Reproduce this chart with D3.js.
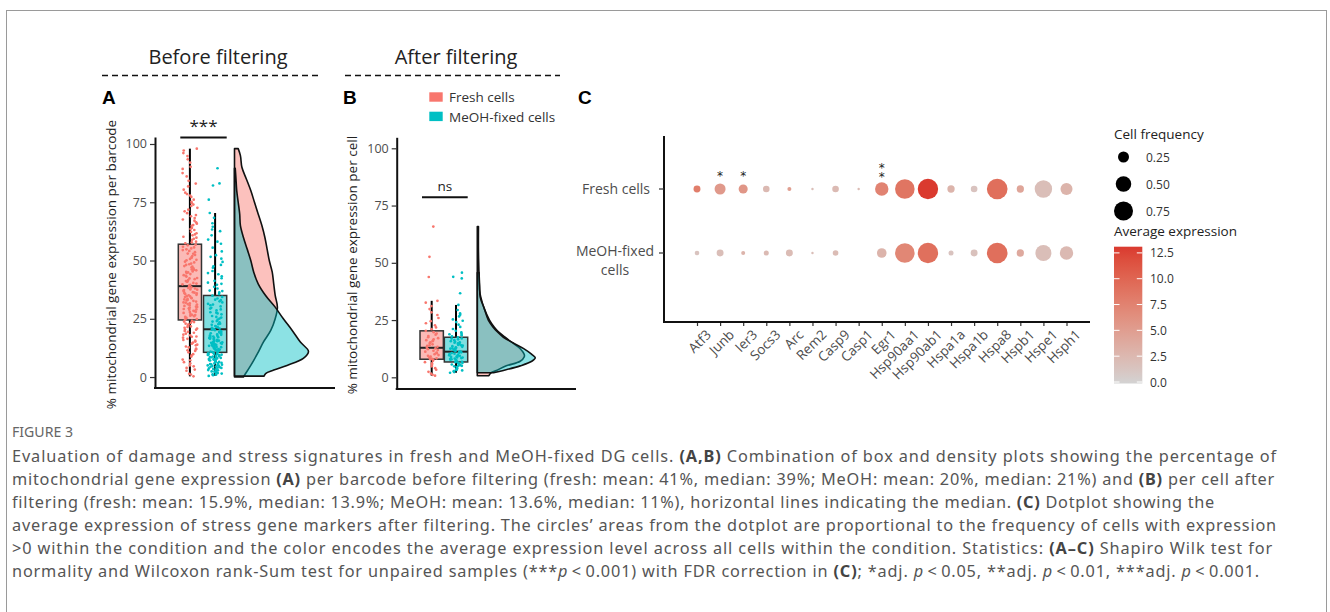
<!DOCTYPE html>
<html>
<head>
<meta charset="utf-8">
<script src="https://cdn.jsdelivr.net/npm/d3@7"></script>
<style>
  body { margin: 0; background: #fff; }
  text { font-family: "Open Sans", sans-serif; }
</style>
</head>
<body>
<svg id="chart" width="1330" height="612"></svg>
<script>
// conditions
const groups = ["Fresh cells", "MeOH-fixed cells"];
const groupColors = ["#F8766D", "#00BFC4"];

// panel A: % mito genes per barcode (before filtering)
const freshA = [0.3, 1.1, 1.4, 2.7, 3.2, 4.6, 5.0, 5.9, 7.2, 7.5, 8.8, 9.3, 10.6, 11.2, 11.5, 12.7, 13.1, 13.9, 14.8, 15.2,
  15.6, 16.9, 17.3, 17.4, 18.6, 19.0, 19.8, 20.3, 20.4, 21.5, 21.7, 22.1, 22.6, 23.3, 23.8, 24.1, 24.9, 25.2, 25.4, 26.1,
  26.6, 26.7, 27.5, 27.9, 28.3, 28.4, 29.2, 29.5, 30.1, 30.2, 30.8, 31.3, 31.6, 32.0, 32.4, 32.9, 33.1, 33.8, 34.0, 34.6,
  34.7, 35.3, 35.9, 36.0, 36.4, 37.1, 37.5, 37.6, 38.2, 38.5, 38.9, 39.3, 39.8, 40.4, 41.0, 41.2, 42.0, 42.5, 43.1, 43.7,
  44.2, 44.9, 45.3, 46.0, 46.2, 47.1, 47.6, 48.4, 48.7, 49.5, 50.1, 50.3, 51.2, 51.9, 52.4, 53.0, 53.6, 54.1, 54.8, 55.2,
  55.9, 56.5, 56.8, 57.4, 58.1, 58.9, 59.3, 60.2, 60.8, 61.7, 62.3, 63.5, 64.0, 64.9, 65.8, 66.4, 67.6, 68.2, 69.5, 70.3,
  71.1, 72.6, 73.4, 74.0, 75.2, 76.1, 77.3, 78.5, 79.1, 80.4, 81.8, 83.0, 84.2, 86.1, 87.5, 89.3, 90.2, 92.0, 93.4, 94.8,
  96.1, 97.2, 98.0, 18.2, 22.9, 26.3, 29.8, 33.5, 36.7, 41.6, 45.8, 28.9, 31.9, 24.6, 20.8, 16.4, 35.6, 39.6,
  15.9, 17.9, 19.4, 21.1, 23.6, 25.8, 27.1, 28.0, 29.0, 30.5, 31.1, 32.7, 33.3, 34.3, 35.1, 36.2, 37.3, 38.0, 40.1, 40.9,
  42.3, 43.4, 44.6, 45.1, 46.6, 47.4, 48.1, 49.2, 50.7, 51.5, 52.9, 54.5, 55.6, 57.8, 59.8, 61.2, 63.1, 65.2, 67.1, 69.0,
  71.8, 74.6, 77.9, 11.9, 9.8, 6.4, 3.9, 13.6, 14.3, 12.2];
const meohA = [0.5, 0.8, 1.2, 1.5, 1.9, 2.1, 2.6, 2.8, 3.3, 3.5, 3.9, 4.2, 4.4, 4.9, 5.2, 5.3, 5.8, 6.1, 6.3, 6.8,
  7.0, 7.3, 7.7, 7.8, 8.2, 8.5, 8.6, 9.1, 9.4, 9.5, 9.9, 10.2, 10.4, 10.9, 11.2, 11.3, 11.8, 12.1, 12.4, 12.6,
  13.1, 13.4, 13.5, 14.0, 14.3, 14.7, 14.9, 15.4, 15.6, 16.0, 16.3, 16.8, 17.0, 17.4, 17.7, 18.1, 18.3, 18.8, 19.0, 19.5,
  19.7, 20.1, 20.3, 20.8, 21.3, 21.9, 22.4, 22.7, 23.5, 24.0, 24.6, 25.1, 25.5, 26.2, 26.9, 27.3, 27.8, 28.6, 29.0, 29.7,
  30.3, 30.8, 31.4, 32.0, 32.5, 33.2, 33.7, 34.4, 34.9, 35.6, 36.3, 37.1, 38.0, 38.7, 39.6, 40.5, 41.3, 42.4, 43.2, 44.6,
  45.5, 46.9, 48.1, 49.4, 50.8, 52.3, 53.9, 55.5, 57.2, 59.0, 60.8, 62.6, 64.5, 66.0, 68.3, 70.4, 76.1, 82.2, 83.1, 89.6,
  6.6, 8.9, 10.7, 11.6, 12.9, 13.8, 15.1, 16.6, 4.7, 7.5, 9.7, 3.7, 2.4, 1.7, 5.6, 12.2, 14.5, 17.2, 19.2, 21.1,
  1.0, 2.3, 3.0, 4.0, 4.5, 5.5, 6.0, 6.5, 7.1, 7.6, 8.0, 8.4, 8.8, 9.2, 9.6, 10.0, 10.5, 11.0, 11.5, 12.0,
  12.8, 13.2, 13.7, 14.2, 14.6, 15.2, 15.8, 16.5, 17.1, 17.9, 18.6, 19.3, 20.6, 21.6, 22.9, 23.8, 25.8, 27.6, 29.4, 31.1,
  33.0, 36.9, 40.0, 44.1, 47.5, 51.6, 58.1, 63.3, 2.9, 5.0];
// box stats: [lower whisker, q1, median, q3, upper whisker]
const boxA = [[0.3, 24.5, 39, 57, 98], [0.5, 10.6, 20.5, 35, 70.4]];
// half-violin density [value, relative density]
const densFreshA = [[0, 0.12], [1, 0.14], [5, 0.22], [10, 0.31], [15, 0.39], [20, 0.49], [25, 0.55], [30, 0.58], [35, 0.55],
  [40, 0.53], [45, 0.51], [50, 0.47], [55, 0.44], [60, 0.41], [65, 0.37], [70, 0.32], [75, 0.27], [80, 0.22], [85, 0.16],
  [90, 0.10], [95, 0.08], [98, 0.05]];
const densMeohA = [[0.4, 0.40], [1.5, 0.42], [3, 0.53], [5, 0.71], [8, 0.93], [11, 1.0], [15, 0.89], [20, 0.78], [25, 0.66],
  [30, 0.55], [35, 0.42], [40, 0.32], [45, 0.26], [50, 0.22], [55, 0.17], [60, 0.12], [65, 0.08], [70, 0.07], [75, 0.05],
  [80, 0.03], [85, 0.02], [89.6, 0.01]];

// panel B: % mito genes per cell (after filtering)
const freshB = [0.7, 1.1, 1.6, 2.4, 3.3, 4.0, 4.8, 5.5, 6.1, 6.6, 7.2, 7.7, 7.9, 8.3, 8.6, 9.0, 9.4, 9.7, 10.1, 10.5,
  10.8, 11.2, 11.6, 11.9, 12.3, 12.6, 12.9, 13.3, 13.7, 14.0, 14.4, 14.9, 15.3, 15.8, 16.2, 16.6, 17.1, 17.5, 18.0, 18.6,
  19.1, 19.7, 20.3, 21.0, 21.8, 22.7, 23.6, 24.5, 25.9, 27.2, 28.4, 29.8, 31.1, 32.6, 33.4, 43.8, 52.6, 65.8, 16.0, 8.1];
const meohB = [2.0, 2.3, 2.7, 3.0, 3.2, 3.6, 3.9, 4.1, 4.5, 4.8, 5.0, 5.3, 5.6, 5.8, 6.1, 6.3, 6.6, 6.8, 7.0, 7.3,
  7.5, 7.7, 8.0, 8.2, 8.4, 8.7, 8.9, 9.1, 9.4, 9.6, 9.8, 10.1, 10.3, 10.6, 10.8, 11.0, 11.3, 11.5, 11.8, 12.0,
  12.3, 12.5, 12.8, 13.1, 13.3, 13.6, 13.9, 14.2, 14.5, 14.8, 15.1, 15.5, 15.8, 16.2, 16.6, 17.0, 17.4, 17.9, 18.4, 19.0,
  19.6, 20.3, 21.1, 22.0, 23.0, 24.1, 25.3, 26.6, 27.9, 29.4, 31.6, 36.7, 43.2, 43.9, 45.7, 5.1, 7.9, 9.2, 10.9, 12.7,
  14.0, 16.9, 18.8, 24.7, 27.3, 3.4, 6.4, 8.6, 11.9, 15.3];
const boxB = [[0.7, 7.9, 12.9, 20.3, 33.4], [2.0, 6.7, 11.2, 17.5, 31.6]];
const densFreshB = [[0.7, 0.20], [2, 0.24], [3, 0.33], [5, 0.50], [7, 0.74], [9, 0.81], [10, 0.81], [12.5, 0.74], [15, 0.61],
  [17.5, 0.48], [20, 0.36], [22, 0.29], [25, 0.21], [30, 0.12], [35, 0.06], [38, 0.04], [45, 0.03], [55, 0.02], [65.8, 0.02]];
const densMeohB = [[2, 0.28], [3, 0.45], [5, 0.74], [7, 0.94], [8.5, 1.0], [10, 0.94], [12.5, 0.80], [15, 0.62], [17.5, 0.45],
  [20, 0.34], [22, 0.27], [25, 0.19], [30, 0.12], [35, 0.05], [40, 0.04], [45.7, 0.03]];

const yTicks = [0, 25, 50, 75, 100];

// panel C: dotplot
const genes = ["Atf3", "Junb", "Ier3", "Socs3", "Arc", "Rem2", "Casp9", "Casp1", "Egr1", "Hsp90aa1", "Hsp90ab1",
  "Hspa1a", "Hspa1b", "Hspa8", "Hspb1", "Hspe1", "Hsph1"];
const freqFresh = [0.10, 0.25, 0.17, 0.09, 0.033, 0.012, 0.09, 0.012, 0.37, 0.79, 0.86, 0.11, 0.09, 0.88, 0.11, 0.63, 0.30];
const freqMeoh = [0.044, 0.10, 0.033, 0.052, 0.10, 0.012, 0.065, 0, 0.19, 0.79, 0.86, 0.052, 0.10, 0.88, 0.11, 0.53, 0.37];
const exprFresh = [8.0, 5.5, 5.8, 2.5, 5.0, 2.0, 2.4, 2.2, 7.5, 8.8, 13.1, 3.0, 1.5, 9.3, 4.4, 2.0, 3.0];
const exprMeoh = [1.5, 2.0, 3.0, 2.4, 2.2, 2.0, 2.2, 0, 3.0, 7.2, 9.2, 1.5, 1.7, 9.3, 4.0, 2.0, 2.5];
const sigFresh = ["", "*", "*", "", "", "", "", "", "**", "", "", "", "", "", "", "", ""];
const sizeBreaks = [0.25, 0.50, 0.75];
const colorBreaks = [0, 2.5, 5, 7.5, 10, 12.5];

const svg = d3.select("#chart");
svg.append("rect").attr("width", 1330).attr("height", 612).attr("fill", "#fff");
svg.append("rect").attr("x", 6.5).attr("y", 10.5).attr("width", 1320).attr("height", 640)
  .attr("fill", "none").attr("stroke", "#9a9a9a").attr("stroke-width", 1);

// headers over A and B
function header(label, cx, x0, x1) {
  svg.append("text").attr("x", cx).attr("y", 64).attr("text-anchor", "middle")
    .attr("font-size", 20).attr("fill", "#222").text(label);
  svg.append("line").attr("x1", x0).attr("x2", x1).attr("y1", 75.5).attr("y2", 75.5)
    .attr("stroke", "#111").attr("stroke-width", 1.5).attr("stroke-dasharray", "6,4");
}
header("Before filtering", 218, 102, 322);
header("After filtering", 456, 345, 560);

function panelLetter(l, x) {
  svg.append("text").attr("x", x).attr("y", 104).attr("font-size", 19).attr("font-weight", 700)
    .style("font-family", "Liberation Sans, Arial, sans-serif").attr("fill", "#000").text(l);
}
panelLetter("A", 102);
panelLetter("B", 343);
panelLetter("C", 578);

// spread of jittered points, deterministic per index
function spread(k, i) {
  const s = Math.sin((k + 1) * 12.9898 + (i + 1) * 78.233) * 43758.5453;
  return s - Math.floor(s) - 0.5;
}

function raincloud(o) {
  const y = d3.scaleLinear().domain(o.yDomain).range([o.bottom, o.top]);
  const x = d3.scaleBand().domain(groups).range(o.boxRange).paddingInner(o.pad);
  const w = d3.scaleLinear().domain([0, 1]).range([0, o.densMax]);
  const g = svg.append("g");

  // half violins
  const area = d3.area().curve(d3.curveCatmullRom)
    .y(p => y(p[0])).x0(o.densBase).x1(p => o.densBase + w(p[1]));
  o.dens.forEach((d, i) => {
    g.append("path").datum(d).attr("d", area)
      .attr("fill", groupColors[i]).attr("fill-opacity", 0.45)
      .attr("stroke", "#111").attr("stroke-width", 1.6).attr("stroke-linejoin", "round");
  });

  // boxes
  o.boxes.forEach((b, i) => {
    const bx = x(groups[i]), bw = x.bandwidth(), cx = bx + bw / 2;
    g.append("line").attr("x1", cx).attr("x2", cx).attr("y1", y(b[4])).attr("y2", y(b[3]))
      .attr("stroke", "#000").attr("stroke-width", 2);
    g.append("line").attr("x1", cx).attr("x2", cx).attr("y1", y(b[1])).attr("y2", y(b[0]))
      .attr("stroke", "#000").attr("stroke-width", 2);
    g.append("rect").attr("x", bx).attr("y", y(b[3])).attr("width", bw).attr("height", y(b[1]) - y(b[3]))
      .attr("fill", groupColors[i]).attr("fill-opacity", 0.5).attr("stroke", "#333").attr("stroke-width", 1.5);
    g.append("line").attr("x1", bx).attr("x2", bx + bw).attr("y1", y(b[2])).attr("y2", y(b[2]))
      .attr("stroke", "#222").attr("stroke-width", 2);
  });

  // jittered points
  o.values.forEach((vals, i) => {
    const cx = x(groups[i]) + x.bandwidth() / 2;
    g.selectAll(null).data(vals).enter().append("circle")
      .attr("cx", (v, k) => cx + spread(k, i) * 2 * o.jitter)
      .attr("cy", v => y(v))
      .attr("r", o.r)
      .attr("fill", groupColors[i]);
  });

  // significance bracket
  const sx0 = x(groups[0]) + 2, sx1 = x(groups[1]) + x.bandwidth();
  g.append("line").attr("x1", sx0).attr("x2", sx1).attr("y1", y(o.sigAt)).attr("y2", y(o.sigAt))
    .attr("stroke", "#111").attr("stroke-width", 2);
  g.append("text").attr("x", (sx0 + sx1) / 2).attr("y", y(o.sigAt) - o.sigGap).attr("text-anchor", "middle")
    .attr("font-size", o.sigSize).attr("fill", "#222").text(o.sigLabel);

  // axes
  const ax = g.append("g").attr("transform", `translate(${o.axisX},0)`)
    .call(d3.axisLeft(y).tickValues(yTicks).tickSize(5).tickPadding(3).tickSizeOuter(0));
  ax.select(".domain").attr("stroke", "#111").attr("stroke-width", 2);
  ax.selectAll(".tick line").attr("stroke", "#333").attr("stroke-width", 1.2);
  ax.selectAll(".tick text").attr("font-size", 12.5).attr("fill", "#4d4d4d").style("font-family", "Open Sans, sans-serif");
  g.append("line").attr("x1", o.axisX - 1).attr("x2", o.axisEnd).attr("y1", o.bottom).attr("y2", o.bottom)
    .attr("stroke", "#111").attr("stroke-width", 2);
  g.append("text").attr("transform", `translate(${o.titleX},${(o.top + o.bottom) / 2 + 2}) rotate(-90)`)
    .attr("text-anchor", "middle").attr("font-size", 13.5).attr("fill", "#222").text(o.yTitle);
}

raincloud({
  yDomain: [-4.7, 103], top: 137, bottom: 388,
  boxRange: [178.3, 226.7], pad: 0.08, densBase: 234.5, densMax: 74,
  dens: [densFreshA, densMeohA], boxes: boxA, values: [freshA, meohA], jitter: 7.5, r: 1.35,
  sigAt: 102.8, sigGap: 5, sigSize: 17, sigLabel: "***",
  axisX: 155, axisEnd: 335, titleX: 116, yTitle: "% mitochondrial gene expression per barcode"
});
raincloud({
  yDomain: [-5.1, 104.8], top: 137.3, bottom: 389,
  boxRange: [420, 467.7], pad: 0.04, densBase: 477.3, densMax: 58,
  dens: [densFreshB, densMeohB], boxes: boxB, values: [freshB, meohB], jitter: 7, r: 1.35,
  sigAt: 78.6, sigGap: 6, sigSize: 13.5, sigLabel: "ns",
  axisX: 396.7, axisEnd: 576, titleX: 357, yTitle: "% mitochondrial gene expression per cell"
});

// legend for A/B
groups.forEach((grp, i) => {
  svg.append("rect").attr("x", 429.3).attr("y", 92.3 + i * 19.4).attr("width", 13.4).attr("height", 9.4)
    .attr("fill", groupColors[i]);
  svg.append("text").attr("x", 449).attr("y", 102.3 + i * 19.4).attr("font-size", 13.5).attr("fill", "#333").text(grp);
});

// ---- panel C ----
const xC = d3.scalePoint().domain(genes).range([697, 1066.5]);
const yC = d3.scalePoint().domain(groups).range([189, 253]);
const size = d3.scaleSqrt().domain([0, 1]).range([0, 11]);
const colorMax = 13.1;
const color = d3.scaleLinear().domain([0, colorMax]).range(["#d3d3d3", "#da3a2f"]).interpolate(d3.interpolateLab);

const gC = svg.append("g");
const dots = [];
genes.forEach((gene, i) => {
  dots.push({ gene, grp: groups[0], f: freqFresh[i], e: exprFresh[i] });
  dots.push({ gene, grp: groups[1], f: freqMeoh[i], e: exprMeoh[i] });
});
gC.selectAll("circle").data(dots.filter(d => d.f > 0)).enter().append("circle")
  .attr("cx", d => xC(d.gene)).attr("cy", d => yC(d.grp)).attr("r", d => size(d.f))
  .attr("fill", d => color(d.e));

// stars above the fresh row; several stars are stacked vertically in one text
genes.forEach((gene, i) => {
  const s = sigFresh[i];
  if (!s) return;
  const t = gC.append("text").attr("font-size", 12).attr("fill", "#222")
    .style("font-family", "DejaVu Sans, sans-serif").text(s);
  if (s.length === 1) {
    t.attr("x", xC(gene)).attr("y", yC(groups[0]) - 9).attr("text-anchor", "middle");
  } else {
    t.attr("x", xC(gene)).attr("y", yC(groups[0]) - 28)
      .style("writing-mode", "vertical-rl").style("text-orientation", "upright")
      .style("letter-spacing", "-5px");
  }
});

// axes for C
const axC = gC.append("g").attr("transform", "translate(0,322)")
  .call(d3.axisBottom(xC).tickSize(4).tickSizeOuter(0));
axC.select(".domain").remove();
axC.selectAll(".tick line").attr("stroke", "#333").attr("stroke-width", 1.2);
axC.selectAll(".tick text").attr("font-size", 13.5).attr("fill", "#4d4d4d")
  .style("font-family", "Open Sans, sans-serif")
  .attr("text-anchor", "end").attr("transform", "translate(6,5) rotate(-45)").attr("dy", "0.6em").attr("y", 4);
gC.append("line").attr("x1", 664).attr("x2", 1090).attr("y1", 322).attr("y2", 322).attr("stroke", "#111").attr("stroke-width", 2);
gC.append("line").attr("x1", 664).attr("x2", 664).attr("y1", 136).attr("y2", 323).attr("stroke", "#111").attr("stroke-width", 2);
groups.forEach(grp => {
  gC.append("line").attr("x1", 659).attr("x2", 664).attr("y1", yC(grp)).attr("y2", yC(grp))
    .attr("stroke", "#333").attr("stroke-width", 1.2);
});
gC.append("text").attr("x", 650).attr("y", yC(groups[0]) + 5).attr("text-anchor", "end")
  .attr("font-size", 14).attr("fill", "#4d4d4d").text("Fresh cells");
const ml = gC.append("text").attr("x", 615).attr("y", yC(groups[1]) + 3).attr("text-anchor", "middle")
  .attr("font-size", 14).attr("fill", "#4d4d4d");
ml.append("tspan").attr("x", 615).text("MeOH-fixed");
ml.append("tspan").attr("x", 615).attr("dy", 19).text("cells");

// size legend
svg.append("text").attr("x", 1114).attr("y", 139).attr("font-size", 13.5).attr("fill", "#222").text("Cell frequency");
sizeBreaks.forEach((b, i) => {
  svg.append("circle").attr("cx", 1123.5).attr("cy", 157 + i * 27).attr("r", size(b)).attr("fill", "#000");
  svg.append("text").attr("x", 1146).attr("y", 161.5 + i * 27).attr("font-size", 12).attr("fill", "#333").text(b.toFixed(2));
});

// colour bar
svg.append("text").attr("x", 1114).attr("y", 236).attr("font-size", 13.5).attr("fill", "#222").text("Average expression");
const cb = d3.scaleLinear().domain([0, colorMax]).range([382, 246.7]);
const grad = svg.append("defs").append("linearGradient").attr("id", "cbar")
  .attr("x1", 0).attr("x2", 0).attr("y1", 1).attr("y2", 0);
d3.range(0, 11).forEach(k => {
  grad.append("stop").attr("offset", k / 10).attr("stop-color", color(colorMax * k / 10));
});
svg.append("rect").attr("x", 1114).attr("y", cb(colorMax)).attr("width", 28.3).attr("height", cb(0) - cb(colorMax) + 1.5)
  .attr("fill", "url(#cbar)");
colorBreaks.forEach(b => {
  svg.append("line").attr("x1", 1114).attr("x2", 1119.5).attr("y1", cb(b)).attr("y2", cb(b)).attr("stroke", "#fff").attr("stroke-width", 1);
  svg.append("line").attr("x1", 1136.8).attr("x2", 1142.3).attr("y1", cb(b)).attr("y2", cb(b)).attr("stroke", "#fff").attr("stroke-width", 1);
  svg.append("text").attr("x", 1150).attr("y", cb(b) + 4.5).attr("font-size", 12).attr("fill", "#333").text(b.toFixed(1));
});

// ---- caption ----
svg.append("text").attr("x", 12).attr("y", 437).attr("font-size", 13.5).attr("fill", "#666")
  .style("font-family", "Noto Sans, sans-serif").attr("textLength", 61).attr("lengthAdjust", "spacingAndGlyphs").text("FIGURE 3");
const captionLines = [
  [["Evaluation of damage and stress signatures in fresh and MeOH-fixed DG cells. "], ["(A,B)", "b"], [" Combination of box and density plots showing the percentage of"]],
  [["mitochondrial gene expression "], ["(A)", "b"], [" per barcode before filtering (fresh: mean: 41%, median: 39%; MeOH: mean: 20%, median: 21%) and "], ["(B)", "b"], [" per cell after"]],
  [["filtering (fresh: mean: 15.9%, median: 13.9%; MeOH: mean: 13.6%, median: 11%), horizontal lines indicating the median. "], ["(C)", "b"], [" Dotplot showing the"]],
  [["average expression of stress gene markers after filtering. The circles\u2019 areas from the dotplot are proportional to the frequency of cells with expression"]],
  [[">0 within the condition and the color encodes the average expression level across all cells within the condition. Statistics: "], ["(A\u2013C)", "b"], [" Shapiro Wilk test for"]],
  [["normality and Wilcoxon rank-Sum test for unpaired samples (***"], ["p", "i"], ["\u2009<\u20090.001) with FDR correction in "], ["(C)", "b"], ["; *adj. "], ["p", "i"], ["\u2009<\u20090.05, **adj. "], ["p", "i"], ["\u2009<\u20090.01, ***adj. "], ["p", "i"], ["\u2009<\u20090.001."]]
];
const captionEnds = [1277, 1275, 1215, 1277, 1273, 1260];
captionLines.forEach((parts, i) => {
  const t = svg.append("text").attr("x", 12).attr("y", 462 + i * 23).attr("font-size", 16.3)
    .attr("fill", "#555").style("font-family", "Noto Sans, sans-serif");
  parts.forEach(p => {
    const s = t.append("tspan").text(p[0]);
    if (p[1] === "b") s.attr("font-weight", 700).attr("fill", "#444");
    if (p[1] === "i") s.attr("font-style", "italic");
  });
  // stretch or squeeze the letter spacing so each line ends where it does in the figure
  const natural = t.node().getComputedTextLength();
  const chars = parts.map(p => p[0]).join("").length;
  t.style("letter-spacing", ((captionEnds[i] - 12 - natural) / chars) + "px");
});
</script>
</body>
</html>
